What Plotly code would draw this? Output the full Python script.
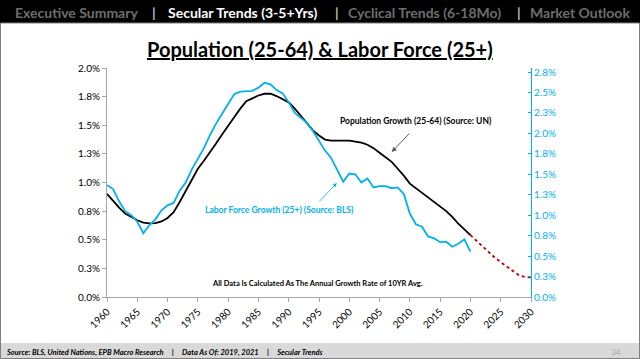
import plotly.graph_objects as go

# ---------------- data ----------------
years = list(range(1960, 2021))
population_growth = [
    0.90, 0.84, 0.78, 0.73, 0.70, 0.67, 0.65, 0.643, 0.645, 0.66,
    0.69, 0.74, 0.83, 0.93, 1.03, 1.12, 1.19, 1.26, 1.34, 1.42,
    1.49, 1.57, 1.645, 1.71, 1.735, 1.76, 1.775, 1.775, 1.755, 1.725,
    1.70, 1.645, 1.58, 1.51, 1.455, 1.41, 1.375, 1.365, 1.363, 1.365,
    1.366, 1.36, 1.348, 1.33, 1.30, 1.26, 1.22, 1.18, 1.12, 1.06,
    0.99, 0.95, 0.915, 0.87, 0.835, 0.79, 0.75, 0.70, 0.64, 0.59,
    0.54,
]
labor_force_growth = [
    1.37, 1.32, 1.17, 1.05, 1.00, 0.92, 0.78, 0.88, 0.95, 1.06,
    1.12, 1.15, 1.30, 1.40, 1.56, 1.69, 1.82, 1.98, 2.12, 2.24,
    2.36, 2.48, 2.51, 2.515, 2.52, 2.56, 2.62, 2.60, 2.53, 2.49,
    2.38, 2.25, 2.19, 2.13, 2.03, 1.91, 1.79, 1.70, 1.56, 1.41,
    1.51, 1.50, 1.40, 1.45, 1.34, 1.355, 1.355, 1.33, 1.34, 1.26,
    1.02, 0.89, 0.86, 0.74, 0.717, 0.67, 0.676, 0.615, 0.65, 0.705,
    0.554,
]
proj_years = list(range(2020, 2031))
population_projection = [0.54, 0.49, 0.44, 0.39, 0.345, 0.305, 0.265, 0.225, 0.19, 0.175, 0.17]

x_ticks = list(range(1960, 2031, 5))
left_tick_vals = [0, 0.25, 0.5, 0.75, 1.0, 1.25, 1.5, 1.75, 2.0]
left_tick_text = ["0.0%", "0.3%", "0.5%", "0.8%", "1.0%", "1.3%", "1.5%", "1.8%", "2.0%"]
right_tick_vals = [0, 0.25, 0.5, 0.75, 1.0, 1.25, 1.5, 1.75, 2.0, 2.25, 2.5, 2.75]
right_tick_text = ["0.0%", "0.3%", "0.5%", "0.8%", "1.0%", "1.3%", "1.5%", "1.8%",
                   "2.0%", "2.3%", "2.5%", "2.8%"]

# ---------------- styling ----------------
FONT = "Lato"
CYAN = "#00B0F0"
W, H = 640, 359
L, R, T, B = 107, 109, 68, 62
PW, PH = W - L - R, H - T - B


def px(x):
    return (x - L) / PW


def py(y):
    return (H - B - y) / PH


fig = go.Figure()
fig.add_trace(go.Scatter(x=years, y=population_growth, mode="lines",
                         line=dict(color="black", width=1.8), yaxis="y",
                         name="Population Growth (25-64)"))
fig.add_trace(go.Scatter(x=proj_years, y=population_projection, mode="lines",
                         line=dict(color="#C00000", width=1.8, dash="dot"), yaxis="y",
                         name="Projection"))
fig.add_trace(go.Scatter(x=years, y=labor_force_growth, mode="lines",
                         line=dict(color=CYAN, width=1.8), yaxis="y2",
                         name="Labor Force Growth (25+)"))

shapes = [
    dict(type="rect", xref="paper", yref="paper", x0=px(0), x1=px(W), y0=py(23), y1=py(0),
         fillcolor="black", line=dict(width=0), layer="below"),
    dict(type="rect", xref="paper", yref="paper", x0=px(0), x1=px(W), y0=py(H), y1=py(343),
         fillcolor="#D9D9D9", line=dict(width=0), layer="below"),
    dict(type="rect", xref="paper", yref="paper", x0=px(0.5), x1=px(W - 0.5), y0=py(H - 0.5), y1=py(23),
         fillcolor="rgba(0,0,0,0)", line=dict(color="#7F7F7F", width=1), layer="below"),
]

annotations = []
nav = [
    (13, "Executive Summary", "#6E6E6E"),
    (150, "|", "#BFBFBF"),
    (166, "Secular Trends (3-5+Yrs)", "white"),
    (333, "|", "#BFBFBF"),
    (346, "Cyclical Trends (6-18Mo)", "#6E6E6E"),
    (515, "|", "#BFBFBF"),
    (528, "Market Outlook", "#6E6E6E"),
]
for x, t, c in nav:
    annotations.append(dict(xref="paper", yref="paper", x=px(x), y=py(12), text="<b>%s</b>" % t,
                             xanchor="left", yanchor="middle", showarrow=False,
                             font=dict(family=FONT, size=14, color=c)))

annotations += [
    dict(xref="paper", yref="paper", x=px(320), y=py(49),
         text="<b><u>Population (25-64) & Labor Force (25+)</u></b>",
         xanchor="center", yanchor="middle", showarrow=False,
         font=dict(family=FONT, size=20, color="black")),
    dict(xref="paper", yref="paper", x=px(4), y=py(352),
         text="<b><i>Source: BLS, United Nations, EPB Macro Research     |     Data As Of: 2019, 2021     |     Secular Trends</i></b>",
         xanchor="left", yanchor="middle", showarrow=False,
         font=dict(family=FONT, size=7.5, color="black")),
    dict(xref="paper", yref="paper", x=px(616), y=py(352), text="34",
         xanchor="center", yanchor="middle", showarrow=False,
         font=dict(family=FONT, size=8, color="#A6A6A6")),
    dict(xref="x", yref="y", x=2011.0, y=1.537, text="<b>Population Growth (25-64) (Source: UN)</b>",
         showarrow=False, xanchor="center", yanchor="middle",
         font=dict(family=FONT, size=8.5, color="black")),
    dict(xref="x", yref="y", x=2007.0, y=1.266, ax=19, ay=-20, text="",
         showarrow=True, arrowhead=2, arrowsize=1, arrowwidth=1, arrowcolor="#595959"),
    dict(xref="x", yref="y", x=1988.4, y=0.76, text="<b>Labor Force Growth (25+) (Source: BLS)</b>",
         showarrow=False, xanchor="center", yanchor="middle",
         font=dict(family=FONT, size=8.5, color=CYAN)),
    dict(xref="x", yref="y", x=1997.95, y=0.996, ax=-19, ay=20, text="",
         showarrow=True, arrowhead=2, arrowsize=1, arrowwidth=0.8, arrowcolor=CYAN),
    dict(xref="x", yref="y", x=1994.7, y=0.114,
         text="<b>All Data Is Calculated As The Annual Growth Rate of 10YR Avg.</b>",
         showarrow=False, xanchor="center", yanchor="middle",
         font=dict(family=FONT, size=7.5, color="black")),
]

fig.update_layout(
    width=W, height=H,
    margin=dict(l=L, r=R, t=T, b=B, pad=0),
    paper_bgcolor="white", plot_bgcolor="white",
    showlegend=False,
    font=dict(family=FONT, color="black"),
    xaxis=dict(range=[1960, 2030], tickvals=x_ticks, tickangle=-45,
               showgrid=False, zeroline=False, showline=True, linecolor="#A6A6A6", linewidth=1,
               ticks="outside", ticklen=4, tickcolor="#A6A6A6",
               tickfont=dict(family=FONT, size=10, color="black")),
    yaxis=dict(range=[0, 2.0], tickvals=left_tick_vals, ticktext=left_tick_text,
               showgrid=False, zeroline=False, showline=True, linecolor="#A6A6A6", linewidth=1,
               ticks="outside", ticklen=4, tickcolor="#A6A6A6",
               tickfont=dict(family=FONT, size=10, color="black")),
    yaxis2=dict(range=[0, 2.8], tickvals=right_tick_vals, ticktext=right_tick_text,
                overlaying="y", side="right",
                showgrid=False, zeroline=False, showline=True, linecolor=CYAN, linewidth=1,
                ticks="inside", ticklen=3, tickcolor=CYAN,
                tickfont=dict(family=FONT, size=10, color=CYAN)),
    shapes=shapes,
    annotations=annotations,
)

fig.write_html("out.html",
               config={"displayModeBar": False},
               post_script="document.body.style.margin='0px';document.body.style.overflow='hidden';")
